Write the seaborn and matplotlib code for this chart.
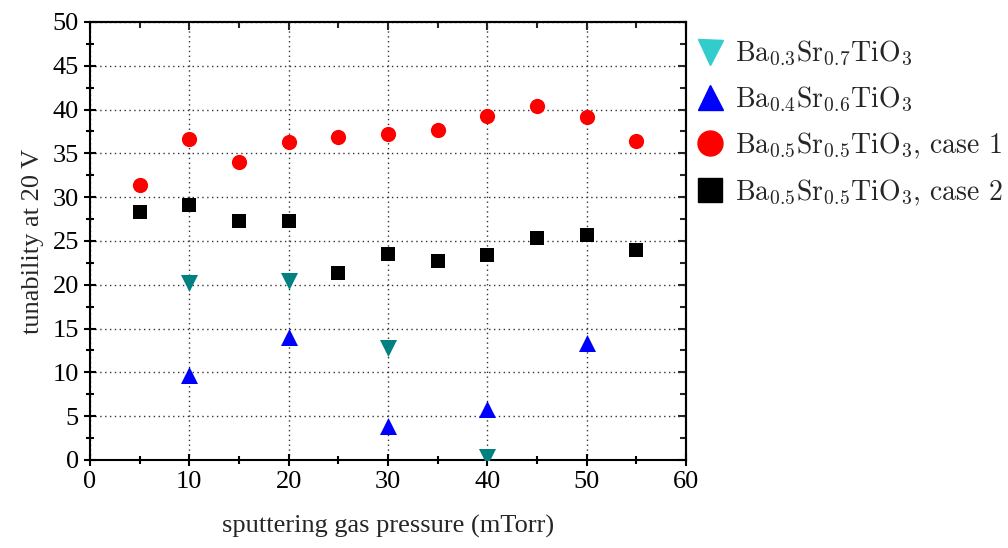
"""Tunability vs sputtering gas pressure for BST films."""

import matplotlib

matplotlib.use("Agg")
import matplotlib.pyplot as plt
import pandas as pd
import seaborn as sns
from matplotlib.lines import Line2D
from matplotlib.ticker import MultipleLocator

# data
x_bst37 = [10, 20, 30, 40]
y_bst37 = [20.2, 20.4, 12.8, 0.3]

x_bst46 = [10, 20, 30, 40, 50]
y_bst46 = [9.7, 14.0, 3.9, 5.8, 13.4]

x_case1 = [5, 10, 15, 20, 25, 30, 35, 40, 45, 50, 55]
y_case1 = [31.4, 36.6, 34.0, 36.3, 36.9, 37.2, 37.7, 39.3, 40.4, 39.2, 36.4]

x_case2 = [5, 10, 15, 20, 25, 30, 35, 40, 45, 50, 55]
y_case2 = [28.3, 29.1, 27.3, 27.3, 21.3, 23.5, 22.7, 23.4, 25.3, 25.7, 24.0]

labels = [
    r"Ba$_{0.3}$Sr$_{0.7}$TiO$_3$",
    r"Ba$_{0.4}$Sr$_{0.6}$TiO$_3$",
    r"Ba$_{0.5}$Sr$_{0.5}$TiO$_3$, case 1",
    r"Ba$_{0.5}$Sr$_{0.5}$TiO$_3$, case 2",
]

sns.set_theme(style="white")
plt.rcParams["font.family"] = ["Liberation Serif", "DejaVu Serif"]
plt.rcParams["mathtext.fontset"] = "cm"

fig = plt.figure(figsize=(10.08, 5.48), dpi=100)
ax = fig.add_axes([0.0893, 0.1606, 0.5913, 0.7993])

series = [
    (x_bst37, y_bst37, "v", "#008080", 150),
    (x_bst46, y_bst46, "^", "#0000ff", 150),
    (x_case1, y_case1, "o", "#ff0000", 120),
    (x_case2, y_case2, "s", "#000000", 100),
]
for xs, ys, marker, color, size in series:
    frame = pd.DataFrame({"x": xs, "y": ys})
    sns.scatterplot(data=frame, x="x", y="y", marker=marker, color=color,
                    s=size, linewidth=0, ax=ax, zorder=3)

ax.set_xlim(0, 60)
ax.set_ylim(0, 50)
ax.xaxis.set_major_locator(MultipleLocator(10))
ax.xaxis.set_minor_locator(MultipleLocator(5))
ax.yaxis.set_major_locator(MultipleLocator(5))
ax.yaxis.set_minor_locator(MultipleLocator(2.5))

ax.grid(True, which="major", linestyle=(0, (1, 2.5)), color="#333333", linewidth=1.0)
ax.set_axisbelow(True)

for spine in ax.spines.values():
    spine.set_color("black")
    spine.set_linewidth(1.5)

ax.tick_params(which="both", direction="inout", bottom=True, left=True,
               top=False, right=False, colors="black", width=1.5, labelsize=19)
ax.tick_params(which="major", length=9)
ax.tick_params(which="minor", length=6)

# inward ticks on top and right, no labels
secx = ax.secondary_xaxis("top")
secx.xaxis.set_major_locator(MultipleLocator(10))
secx.xaxis.set_minor_locator(MultipleLocator(5))
secx.tick_params(which="both", direction="in", labeltop=False, width=1.5)
secx.tick_params(which="major", length=6)
secx.tick_params(which="minor", length=4)
secy = ax.secondary_yaxis("right")
secy.yaxis.set_major_locator(MultipleLocator(5))
secy.yaxis.set_minor_locator(MultipleLocator(2.5))
secy.tick_params(which="both", direction="in", labelright=False, width=1.5)
secy.tick_params(which="major", length=6)
secy.tick_params(which="minor", length=4)
for s in (secx, secy):
    for spine in s.spines.values():
        spine.set_linewidth(1.5)

ax.set_xlabel("sputtering gas pressure (mTorr)", fontsize=19, labelpad=16)
ax.set_ylabel("tunability at 20 V", fontsize=19, labelpad=6)

handles = [
    Line2D([], [], linestyle="none", marker="v", color="#33cccc", markersize=18),
    Line2D([], [], linestyle="none", marker="^", color="#0000ff", markersize=18),
    Line2D([], [], linestyle="none", marker="o", color="#ff0000", markersize=18),
    Line2D([], [], linestyle="none", marker="s", color="#000000", markersize=17),
]
fig.legend(handles, labels, loc="upper left", bbox_to_anchor=(0.677, 0.949),
           frameon=False, prop={"family": "cmr10", "size": 20},
           handlelength=1.2, handletextpad=0.3,
           labelspacing=0.6, borderaxespad=0)

fig.savefig("out.png", dpi=100)
plt.close(fig)
